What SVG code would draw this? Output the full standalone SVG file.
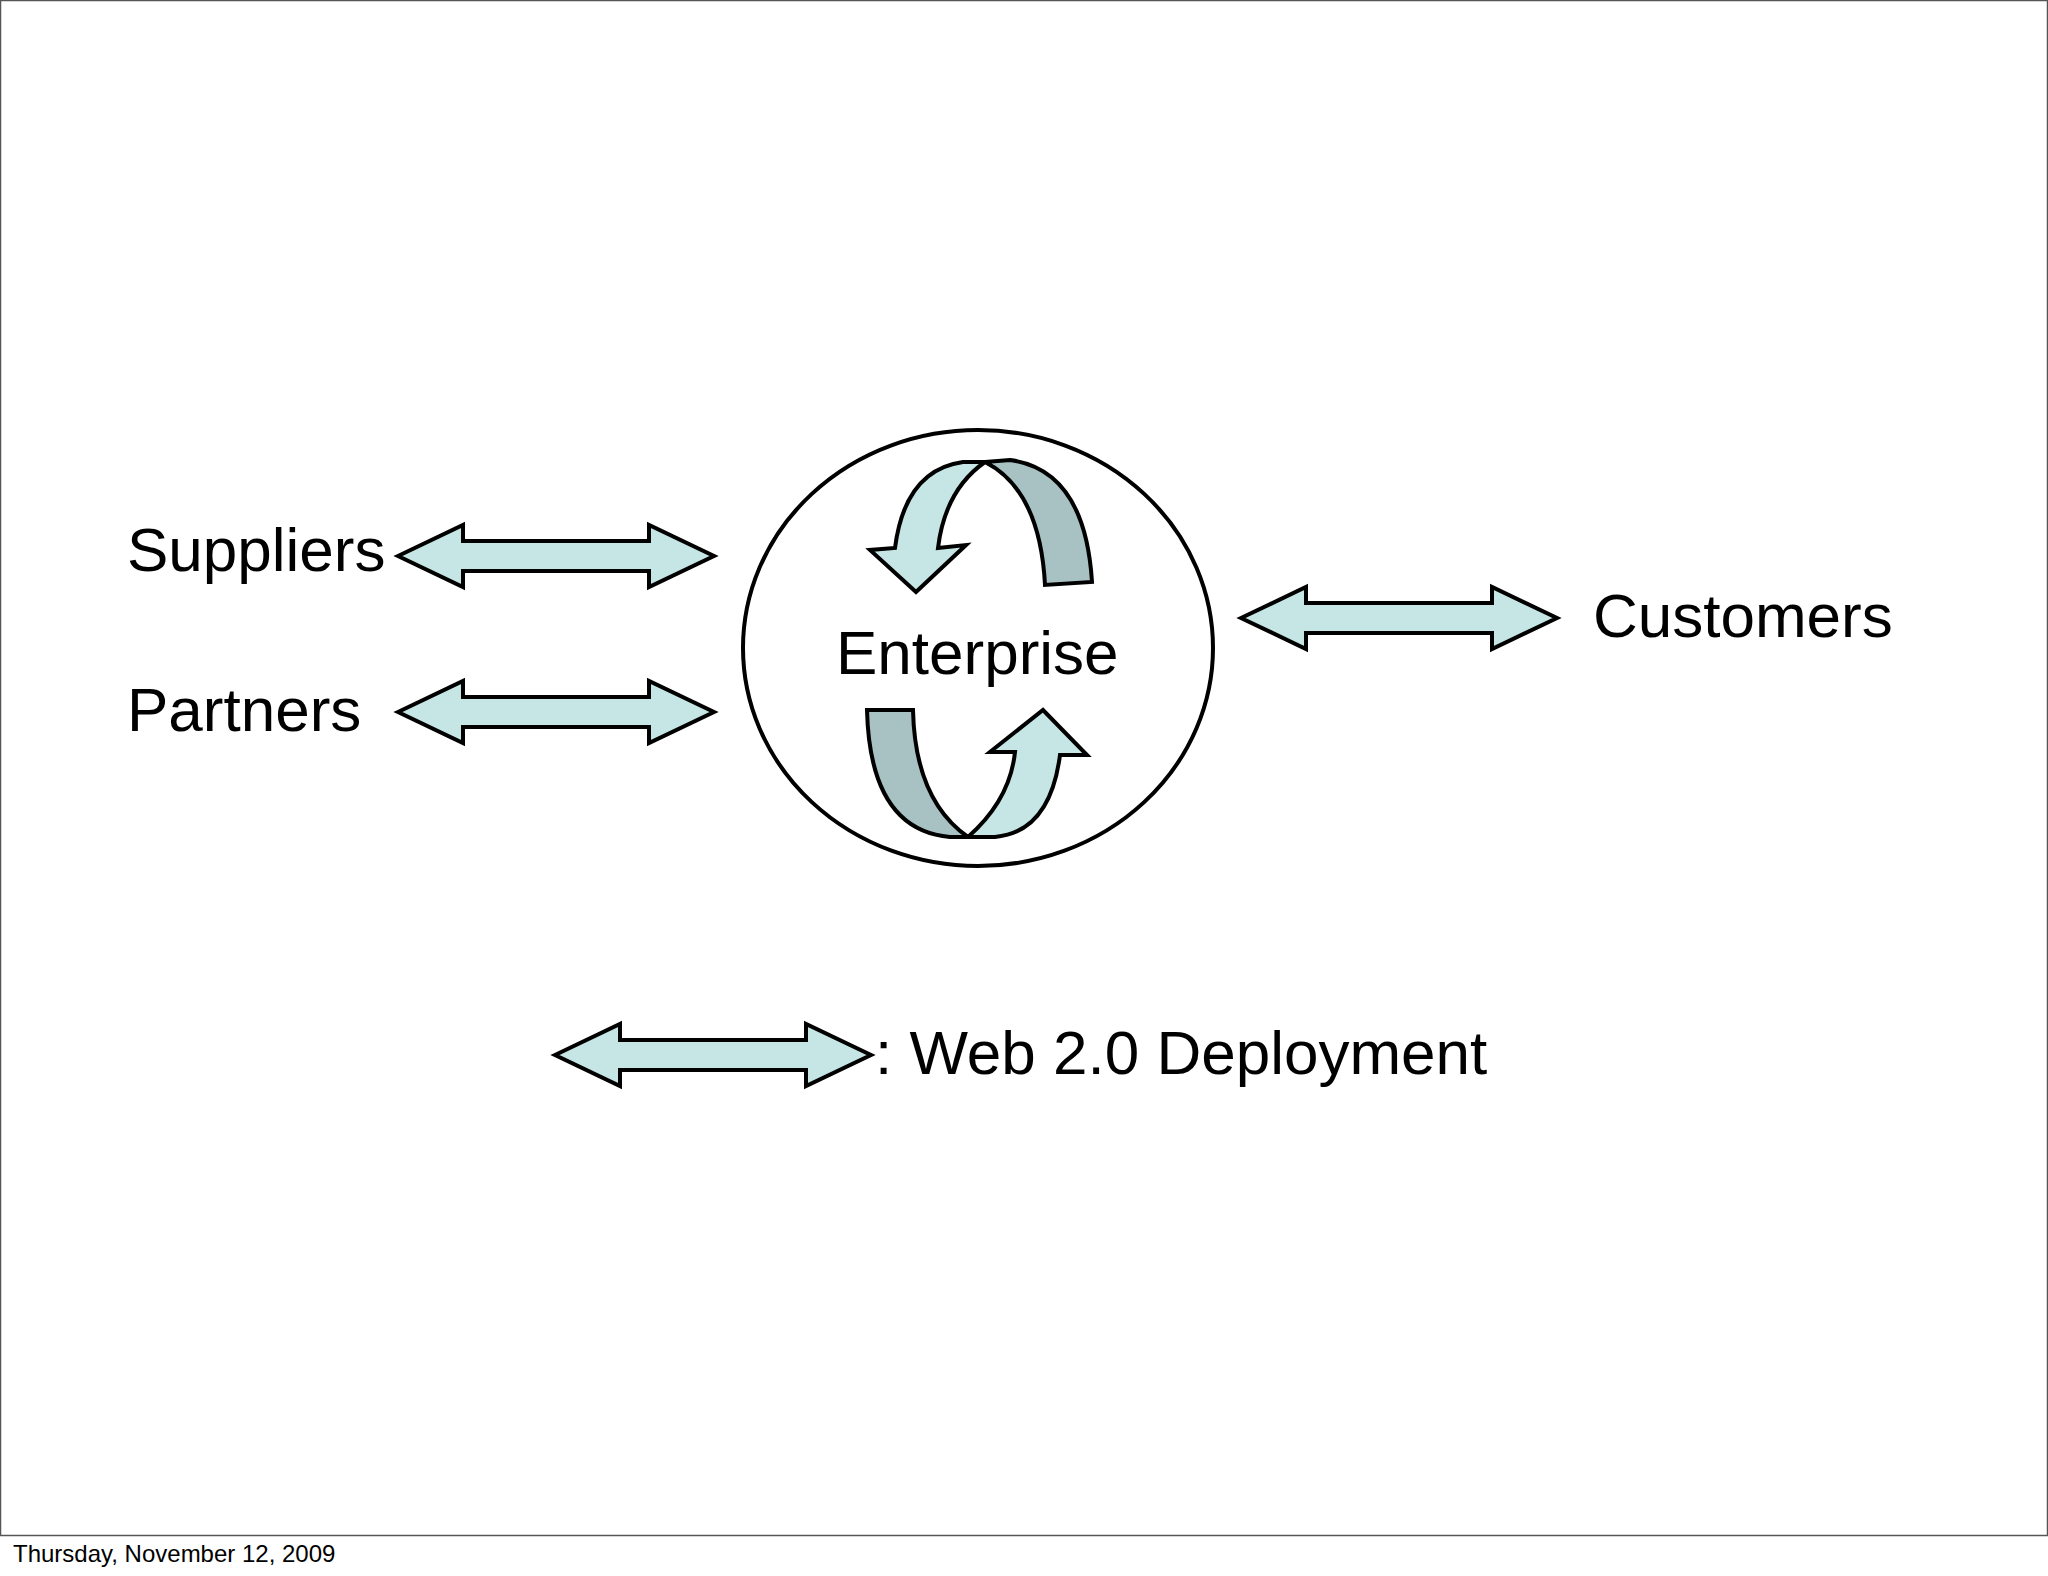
<svg xmlns="http://www.w3.org/2000/svg" width="2048" height="1576" viewBox="0 0 2048 1576">
<style>
.t{font-family:"Liberation Sans",Arial,sans-serif;fill:#000}
.lt{fill:#c6e5e5;stroke:#000;stroke-width:4;stroke-linejoin:miter}
.dk{fill:#a8c1c3;stroke:#000;stroke-width:4}
</style>
<defs>
<path id="dbl" class="lt" d="M0,0 L65,-31 L65,-15 L251,-15 L251,-31 L316,0 L251,31 L251,15 L65,15 L65,31 Z"/>
</defs>
<rect x="0.5" y="0.5" width="2047" height="1535" fill="#fff" stroke="#555" stroke-width="1.5"/>
<g id="connectors">
<use href="#dbl" x="398" y="556"/>
<use href="#dbl" x="398" y="712"/>
<use href="#dbl" x="1241" y="618"/>
</g>
<g id="enterprise">
<ellipse cx="978" cy="648" rx="235" ry="218" fill="#fff" stroke="#000" stroke-width="4"/>
<path class="dk" d="M985,462 L1010,460 Q1085,470 1092,582 L1045,585 Q1040,490 985,462 Z"/>
<path class="lt" d="M963,462 L985,462 Q945,490 938,548 L966,545 L916,592 L870,550 L895,548 Q905,470 963,462 Z"/>
<path class="dk" d="M867,710 L913,710 Q915,800 968,837 L950,837 Q870,830 867,710 Z"/>
<path class="lt" d="M968,837 Q1010,800 1015,752 L990,752 L1043,710 L1087,755 L1060,755 Q1050,832 995,837 Z"/>
<text class="t" x="836" y="674" font-size="62">Enterprise</text>
</g>
<g id="suppliers"><text class="t" x="127" y="571" font-size="62">Suppliers</text></g>
<g id="partners"><text class="t" x="127" y="731" font-size="62">Partners</text></g>
<g id="customers"><text class="t" x="1593" y="637" font-size="62">Customers</text></g>
<g id="legend">
<use href="#dbl" x="555" y="1055"/>
<text class="t" x="875" y="1074" font-size="62">: Web 2.0 Deployment</text>
</g>
<text class="t" x="13" y="1562" font-size="24">Thursday, November 12, 2009</text>
</svg>
